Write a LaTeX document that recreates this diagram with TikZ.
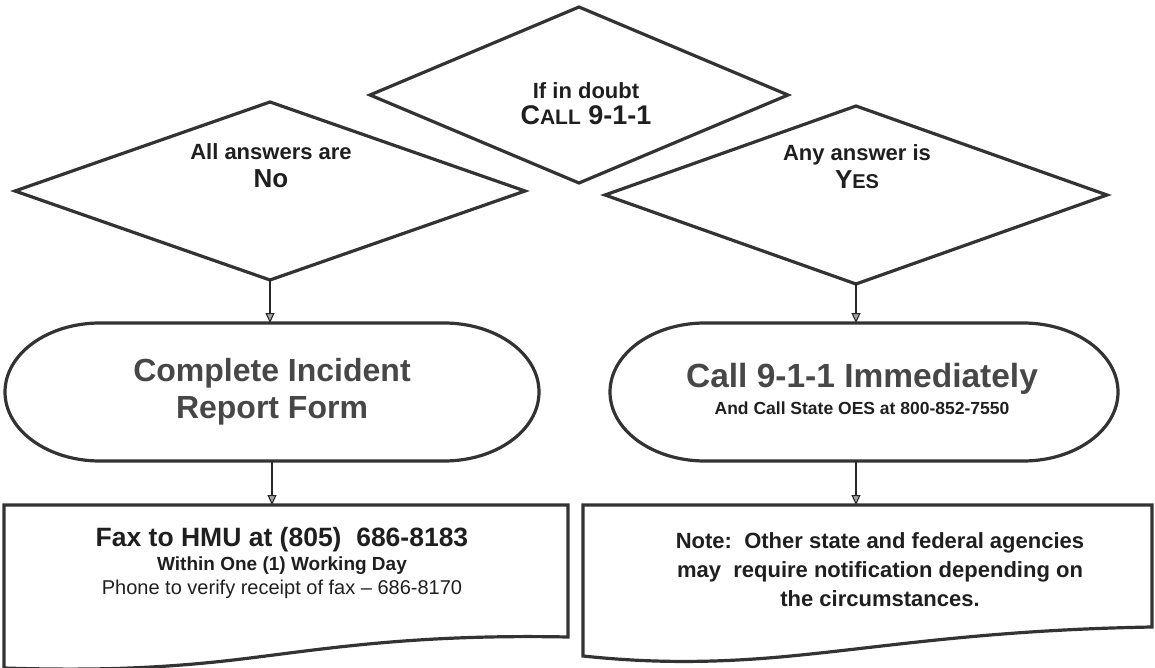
\documentclass[tikz,border=0pt]{standalone}
\usepackage{fontspec}
\setmainfont{Liberation Sans}
\usetikzlibrary{arrows.meta,shapes.geometric}
\begin{document}
\begin{tikzpicture}[x=1pt,y=-1pt,
  shapeline/.style={draw=black!80, line width=3.2pt, line join=miter},
  dia/.style={diamond, shapeline, inner sep=0pt, outer sep=0pt},
  anchorbox/.style={rectangle, draw=none, inner sep=0pt, outer sep=0pt},
  conn/.style={draw=black!85, line width=1.2pt, -{Triangle[open, width=9pt, length=10pt, line width=1.1pt, fill=black!35]}},
  txt/.style={align=center, text=black!88, inner sep=0pt, font=\bfseries\fontsize{22}{28}\selectfont},
  bigtxt/.style={align=center, text=black!72, inner sep=0pt, font=\bfseries\fontsize{32}{37}\selectfont},
]
\useasboundingbox (0,0) rectangle (1155,668);

% diamonds
\node[dia, minimum width=418pt, minimum height=176pt] (d0) at (579,95) {};
\node[dia, minimum width=510pt, minimum height=178pt] (d1) at (270,191) {};
\node[dia, minimum width=502pt, minimum height=178pt] (d2) at (856,195) {};

\node[txt] (d0t) at (586,104) {If in doubt\\[-2pt]{\fontsize{27}{30}\selectfont C{\fontsize{21}{24}\selectfont ALL} 9-1-1}};
\node[txt] (d1t) at (271,166) {All answers are\\{\fontsize{26}{30}\selectfont No}};
\node[txt] (d2t) at (857,167) {Any answer is\\{\fontsize{26}{30}\selectfont Y{\fontsize{20}{24}\selectfont ES}}};

% stadiums (anchor boxes + outlines)
\node[anchorbox, minimum width=534pt, minimum height=138pt] (s1) at (272,392) {};
\node[anchorbox, minimum width=508pt, minimum height=138pt] (s2) at (864,392) {};
\draw[shapeline] (100,323) -- (444,323) arc[start angle=-90, end angle=90, x radius=95, y radius=69]
  -- (100,461) arc[start angle=90, end angle=270, x radius=95, y radius=69] -- cycle;
\draw[shapeline] (705,323) -- (1023,323) arc[start angle=-90, end angle=90, x radius=95, y radius=69]
  -- (705,461) arc[start angle=90, end angle=270, x radius=95, y radius=69] -- cycle;

\node[bigtxt] (s1t) at (272,392) {Complete Incident\\Report Form};
\node[bigtxt, font=\bfseries\fontsize{33.5}{37}\selectfont] (s2t) at (862,379) {Call 9-1-1 Immediately};
\node[txt, font=\bfseries\fontsize{17.5}{20}\selectfont] (s2u) at (862,408) {And Call State OES at 800-852-7550};

% document boxes
\node[anchorbox, minimum width=564pt, minimum height=132pt] (b1) at (286,571) {};
\node[anchorbox, minimum width=569pt, minimum height=122pt] (b2) at (867.5,566) {};
\draw[shapeline] (4,505) -- (568,505) -- (568,637)
  .. controls (420,634) and (330,648) .. (250,658)
  .. controls (170,668) and (100,671) .. (4,668) -- cycle;
\draw[shapeline] (583,505) -- (1152,505) -- (1152,627)
  .. controls (980,630) and (880,648) .. (780,657)
  .. controls (700,664) and (640,662) .. (583,656) -- cycle;

\node[txt, font=\bfseries\fontsize{26.5}{30}\selectfont] (b1a) at (282,540) {Fax to HMU at (805)\ \ 686-8183};
\node[txt, font=\bfseries\fontsize{19}{22}\selectfont] (b1b) at (282,566) {Within One (1) Working Day};
\node[txt, font=\fontsize{20}{23}\selectfont] (b1c) at (282,589) {Phone to verify receipt of fax -- 686-8170};

\node[txt, font=\bfseries\fontsize{22}{29}\selectfont] (b2t) at (880,570) {Note:\ \ Other state and federal agencies\\may\ \ require notification depending on\\the circumstances.};

% connectors
\draw[conn] (d1.south) -- (d1.south |- s1.north);
\draw[conn] (d2.south) -- (d2.south |- s2.north);
\draw[conn] (s1.south) -- (s1.south |- b1.north);
\draw[conn] (d2.south |- s2.south) -- (d2.south |- b2.north);
\end{tikzpicture}
\end{document}
